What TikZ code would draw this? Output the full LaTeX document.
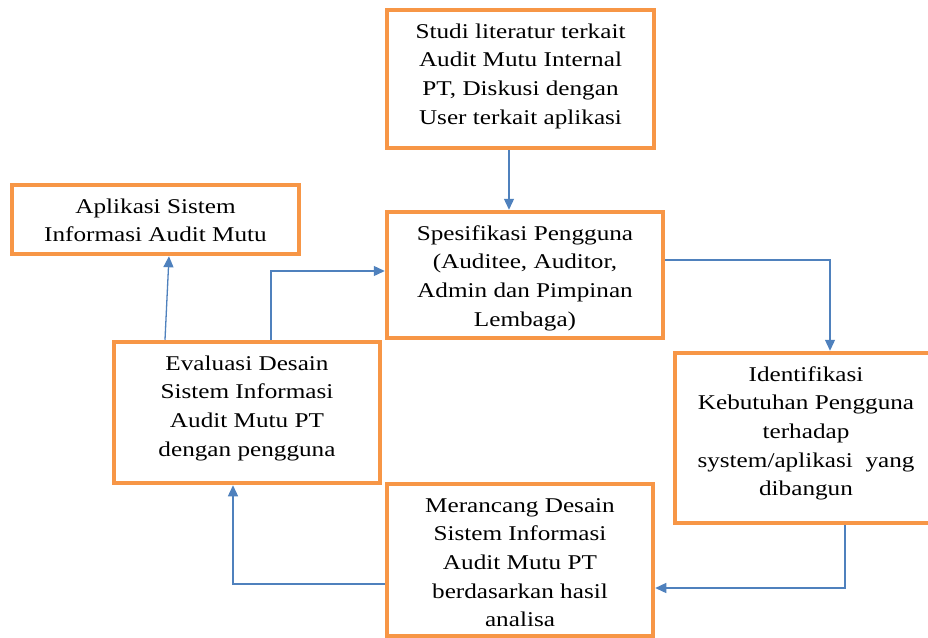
\documentclass[tikz,border=0pt]{standalone}
\usepackage{fontspec}
\setmainfont{Liberation Serif}[FakeStretch=1.2]
\usetikzlibrary{arrows.meta}
\definecolor{boxorange}{HTML}{F79646}
\definecolor{arrowblue}{HTML}{4F81BD}
\newcommand{\boxtext}[3]{\parbox[c][#2][t]{#1}{\centering\strut #3}}
\begin{document}
\begin{tikzpicture}[x=1pt,y=-1pt,
  flowbox/.style={draw=boxorange,line width=4.5pt,fill=white,inner sep=0pt,
    font=\fontsize{21pt}{28.7pt}\selectfont},
  arr/.style={draw=arrowblue,line width=1.3pt,-{Triangle[length=11pt,width=10pt]}}]
\clip (0,0) rectangle (928,637);
\fill[white] (0,0) rectangle (928,637);
\node[flowbox,minimum width=267pt,minimum height=138pt] (b1) at (520.5,79)
  {\boxtext{267pt}{122pt}{Studi literatur terkait\\Audit Mutu Internal\\PT, Diskusi dengan\\User terkait aplikasi}};
\node[flowbox,minimum width=287pt,minimum height=69pt] (b2) at (155.5,219.5)
  {\boxtext{287pt}{53pt}{Aplikasi Sistem\\Informasi Audit Mutu}};
\node[flowbox,minimum width=276pt,minimum height=126pt] (b3) at (525,275)
  {\boxtext{276pt}{110pt}{Spesifikasi Pengguna\\(Auditee, Auditor,\\Admin dan Pimpinan\\Lembaga)}};
\node[flowbox,minimum width=262pt,minimum height=170pt] (b4) at (806,438)
  {\boxtext{262pt}{154pt}{Identifikasi\\Kebutuhan Pengguna\\terhadap\\system/aplikasi~ yang\\dibangun}};
\node[flowbox,minimum width=266pt,minimum height=141pt] (b5) at (247,412.5)
  {\boxtext{266pt}{125pt}{Evaluasi Desain\\Sistem Informasi\\Audit Mutu PT\\dengan pengguna}};
\node[flowbox,minimum width=266pt,minimum height=152pt] (b6) at (520,560)
  {\boxtext{266pt}{136pt}{Merancang Desain\\Sistem Informasi\\Audit Mutu PT\\berdasarkan hasil\\analisa}};
\draw[arr] (509,0 |- b1.south) -- (509,0 |- b3.north);
\draw[arr] (165,0 |- b5.north) -- (169,0 |- b2.south);
\draw[arr] (271,0 |- b5.north) |- (b3.west |- 0,271);
\draw[arr] (b3.east |- 0,260) -| (830,0 |- b4.north);
\draw[arr] (845,0 |- b4.south) |- (b6.east |- 0,588);
\draw[arr] (b6.west |- 0,584) -| (233,0 |- b5.south);
\end{tikzpicture}
\end{document}
